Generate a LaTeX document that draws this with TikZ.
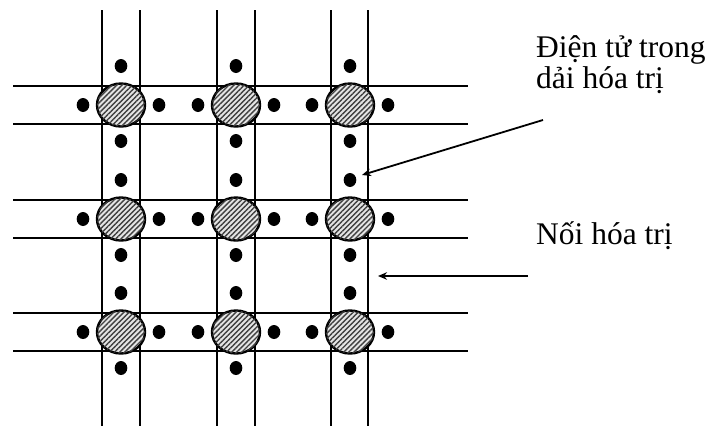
\documentclass[tikz,border=0pt]{standalone}
\usepackage{fontspec}
\setmainfont{Liberation Serif}
\usetikzlibrary{
    arrows.meta,
    patterns.meta,
    shapes.geometric
}

\begin{document}
\begin{tikzpicture}[
        x=1pt, y=-1pt,
        bond/.style={line width=2pt},
        atom/.style={ellipse, draw, line width=2.4pt, minimum width=48pt, minimum height=43pt, inner sep=0pt,
            fill=gray!20, postaction={pattern={Lines[angle=45, distance=3.6pt, line width=1.4pt]}, pattern color=black!75}},
        note/.style={font=\fontsize{31.5}{31}\selectfont, align=left, inner sep=0pt},
        arrow/.style={-{Stealth[length=9pt, width=7.5pt]}, line width=1.8pt}
    ]
        \useasboundingbox (0,0) rectangle (710,426);

        % Bonds
        \foreach \x in {102,140,217,255,331,368}
            \draw[bond] (\x,10) -- (\x,426);
        \foreach \y in {86,124,200,238,313,351}
            \draw[bond] (13,\y) -- (468,\y);

        % Valence electrons
        \foreach \x in {121,236,350}
            \foreach \y in {105,219,332} {
                \fill (\x-38,\y) ellipse (6.3 and 7);
                \fill (\x+38,\y) ellipse (6.3 and 7);
                \fill (\x,\y-39) ellipse (6.3 and 7);
                \fill (\x,\y+36) ellipse (6.3 and 7);
            }

        % Row 1: atoms
        \node[atom] (a11) at (121,105) {};
        \node[atom] (a12) at (236,105) {};
        \node[atom] (a13) at (350,105) {};

        % Row 2: atoms
        \node[atom] (a21) at (121,219) {};
        \node[atom] (a22) at (236,219) {};
        \node[atom] (a23) at (350,219) {};

        % Row 3: atoms
        \node[atom] (a31) at (121,332) {};
        \node[atom] (a32) at (236,332) {};
        \node[atom] (a33) at (350,332) {};

        % Labels
        \node[note, anchor=north west] (elec) at (536,35) {Điện tử trong\\dải hóa trị};
        \node[note, anchor=north west] (bondtxt) at (536,221) {Nối hóa trị};

        % Arrows
        \coordinate (elecfrom) at (543,120);
        \coordinate (electo) at (362,175);
        \coordinate (bondfrom) at (528,276);
        \coordinate (bondto) at (378,276);
        \draw[arrow] (elecfrom) -- (electo);
        \draw[arrow] (bondfrom) -- (bondto);
    \end{tikzpicture}
\end{document}
